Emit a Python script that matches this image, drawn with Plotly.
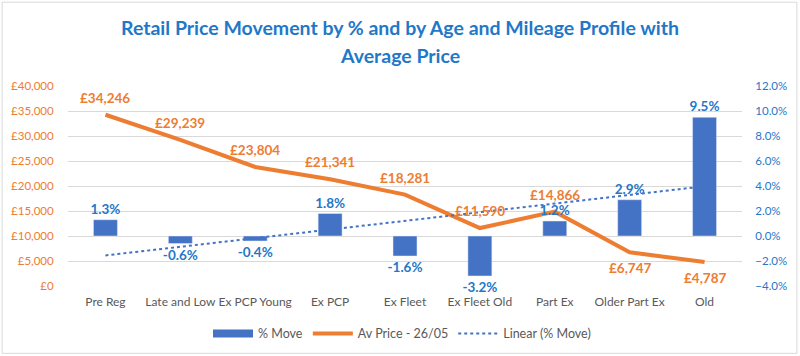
import numpy as np
import plotly.graph_objects as go

categories = ["Pre Reg", "Late and Low", "Ex PCP Young", "Ex PCP", "Ex Fleet",
              "Ex Fleet Old", "Part Ex", "Older Part Ex", "Old"]
pct_move = [1.3, -0.6, -0.4, 1.8, -1.6, -3.2, 1.2, 2.9, 9.5]
av_price = [34246, 29239, 23804, 21341, 18281, 11590, 14866, 6747, 4787]
price_label_above = [True] * 7 + [False] * 2

FONT = "Lato"
BLUE_BAR = "#4472C4"
ORANGE = "#ED7D31"
LABEL_BLUE = "#1F78C8"
TITLE_BLUE = "#1F78C8"
GREY = "#595959"
CLEAR = "rgba(0,0,0,0)"

# linear trendline of % move (least squares, as Excel does)
xi = np.arange(1, len(pct_move) + 1)
slope, intercept = np.polyfit(xi, pct_move, 1)
trend = slope * xi + intercept

fig = go.Figure()
fig.add_trace(go.Bar(
    x=categories, y=pct_move, name="% Move", yaxis="y2",
    marker=dict(color=BLUE_BAR), width=0.32,
    text=[f"{v:.1f}%" for v in pct_move], textposition="outside",
    textfont=dict(family=FONT, size=13.5, color=LABEL_BLUE, weight="bold"),
    cliponaxis=False, constraintext="none",
    showlegend=False, legendgroup="move",
))
# legend-only entry giving the wide rectangular swatch used by Excel
fig.add_trace(go.Scatter(
    x=[None], y=[None], name="% Move", mode="lines", yaxis="y2",
    line=dict(color=BLUE_BAR, width=8), legendgroup="move",
))
fig.add_trace(go.Scatter(
    x=categories, y=av_price, name="Av Price - 26/05", mode="lines",
    line=dict(color=ORANGE, width=4),
    cliponaxis=False,
))
fig.add_trace(go.Scatter(
    x=categories, y=trend, name="Linear (% Move)", mode="lines", yaxis="y2",
    line=dict(color=BLUE_BAR, width=2, dash="dot"),
))

W, H = 800, 356
PL, PR, PT, PB = 67.5, 742.5, 85.5, 286  # plot area in page pixels
L, T, R, B = PL, PT, W - PR, H - PB
ph = PB - PT
pw = PR - PL

def py(Y):
    return (PB - Y) / ph

def px(X):
    return (X - PL) / pw

annotations = [
    dict(text="<b>Retail Price Movement by % and by Age and Mileage Profile with</b>",
         xref="paper", yref="paper", x=px(400), y=py(27), xanchor="center", yanchor="middle",
         showarrow=False, font=dict(family=FONT, size=19.5, color=TITLE_BLUE)),
    dict(text="<b>Average Price</b>",
         xref="paper", yref="paper", x=px(400), y=py(55), xanchor="center", yanchor="middle",
         showarrow=False, font=dict(family=FONT, size=19.5, color=TITLE_BLUE)),
]
for c, v, above in zip(categories, av_price, price_label_above):
    annotations.append(dict(
        text=f"<b>£{v:,}</b>", x=c, y=v, xref="x", yref="y",
        showarrow=False, xanchor="center", yanchor="middle",
        yshift=17 if above else -16,
        font=dict(family=FONT, size=13.5, color=ORANGE),
    ))

fig.update_layout(
    width=W, height=H,
    margin=dict(l=L, r=R, t=T, b=B, pad=0, autoexpand=False),
    paper_bgcolor="white", plot_bgcolor="white",
    font=dict(family=FONT, size=12.5, color=GREY),
    showlegend=True,
    legend=dict(orientation="h", x=px(402), xanchor="center", y=py(334), yanchor="middle",
                font=dict(family=FONT, size=12.5, color=GREY), itemwidth=40,
                bgcolor=CLEAR, traceorder="normal"),
    xaxis=dict(showgrid=False, showline=False, ticks="outside", ticklen=5, tickcolor=CLEAR,
               tickangle=0, tickfont=dict(size=12, color=GREY), zeroline=False,
               automargin=False),
    yaxis=dict(range=[0, 40000], dtick=5000, tickprefix="£", tickformat=",",
               showgrid=True, gridcolor="#D9D9D9", gridwidth=1, zeroline=False,
               tickfont=dict(size=11.5, color=ORANGE), showline=False,
               ticks="outside", ticklen=11, tickcolor=CLEAR, automargin=False),
    yaxis2=dict(range=[-4, 12], dtick=2, tickformat=".1f", ticksuffix="%",
                overlaying="y", side="right", showgrid=False, zeroline=False,
                tickfont=dict(size=11.5, color=LABEL_BLUE), showline=False,
                ticks="outside", ticklen=10, tickcolor=CLEAR, automargin=False),
    annotations=annotations,
    shapes=[dict(type="rect", xref="paper", yref="paper",
                 x0=px(1.5), x1=px(797.5), y0=py(353.5), y1=py(1.5),
                 line=dict(color="#D9D9D9", width=1), layer="below")],
)

fig.write_html("out.html", config={"displayModeBar": False},
               post_script="document.body.style.margin='0';document.body.style.overflow='hidden';")
